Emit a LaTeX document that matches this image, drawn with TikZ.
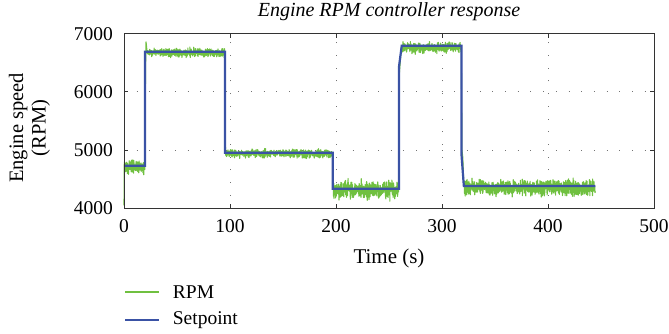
\documentclass[tikz,border=0pt]{standalone}
\usepackage{fontspec}
\setmainfont{Liberation Serif}
\usetikzlibrary{positioning}
\definecolor{rpmgreen}{RGB}{112,192,64}
\definecolor{setblue}{RGB}{58,82,165}
\tikzset{
	rpmline/.style={rpmgreen, line width=1.1pt, line join=round},
	setline/.style={setblue, line width=2.2pt},
	gridline/.style={black!55, line width=0.9pt, dash pattern=on 0.9pt off 11.8pt},
	axisframe/.style={black!80, line width=1pt},
	ticklabel/.style={font=\fontsize{19.5}{22}\selectfont, inner sep=0pt},
	legtext/.style={font=\fontsize{19.5}{22}\selectfont, inner sep=0pt, anchor=west},
}
\newcommand{\noisyrun}[5]{
	% #1: from
	% #2: to
	% #3: mean
	% #4: spread
	% #5: samples
	-- plot[domain=#1:#2, samples=#5] (\x,{#3+#4*(rand+rand+rand)})
}

\begin{document}
\begin{tikzpicture}[x=1pt,y=1pt]
\useasboundingbox (0,0) rectangle (669,333);
\pgfmathsetseed{42}

% title and axis labels
\node[font=\fontsize{20}{24}\selectfont\itshape, inner sep=0pt] (title) at (389,321) {Engine RPM controller response};
\node[font=\fontsize{21}{24}\selectfont, inner sep=0pt] (xlabel) at (389,75) {Time (s)};
\node[font=\fontsize{20.5}{22.5}\selectfont, inner sep=0pt, rotate=90, align=center] (ylabel) at (29.5,205) {Engine speed\\(RPM)};

% data area
\begin{scope}[shift={(124pt,-108.1pt)}, x=1.06pt, y=0.0582pt]

% grid
\foreach \t in {100,200,300,400}
	\draw[gridline] (\t,4000) -- (\t,7000);
\foreach \r in {5000,6000}
	\draw[gridline] (0,\r) -- (500,\r);

% ticks
\foreach \t in {100,200,300,400}{
	\draw[axisframe] (\t,4000) -- ++(0,4pt);
	\draw[axisframe] (\t,7000) -- ++(0,-4pt);
}
\foreach \r in {5000,6000}{
	\draw[axisframe] (0,\r) -- ++(4pt,0);
	\draw[axisframe] (500,\r) -- ++(-4pt,0);
}

% tick labels
\foreach \t in {0,100,...,500}
	\node[ticklabel, yshift=-17.5pt] (xt\t) at (\t,4000) {\t};
\foreach \r in {4000,5000,6000,7000}
	\node[ticklabel, anchor=east, xshift=-11pt] (yt\r) at (0,\r) {\r};

% measured speed
\draw[rpmline] (0,4050) -- (0.3,4800)
	\noisyrun{0.3}{19.8}{4712}{55}{150}
	-- (20.3,6350) -- (20.8,6860) -- (21.6,6720)
	\noisyrun{22}{95.2}{6672}{36}{550}
	-- (95.6,5100)
	\noisyrun{96}{196.8}{4942}{34}{750}
	\noisyrun{197.2}{259.2}{4318}{75}{460}
	-- (259.7,6300) -- (261.6,6760)
	\noisyrun{262}{318.2}{6762}{40}{420}
	-- (318.8,5000) -- (319.6,4880) -- (320.6,4400)
	\noisyrun{321}{444.6}{4356}{66}{900};

% setpoint
\draw[setline] (0,4732) -- (19.8,4732) -- (19.8,6690) -- (95.3,6690)
	-- (95.3,4955) -- (196.9,4955) -- (196.9,4337) -- (259.4,4337)
	-- (259.4,6430) -- (262,6794) -- (318.4,6794) -- (318.4,4916)
	-- (320.6,4383) -- (444.6,4383);

% frame
\draw[axisframe] (0,4000) rectangle (500,7000);
\end{scope}

% legend
\coordinate (rpmstart) at (125,41);
\coordinate[right=34pt of rpmstart] (rpmend);
\node[legtext, right=13.7pt of rpmend] (rpmtext) {RPM};
\draw[rpmgreen, line width=1.2pt] (rpmstart) -- (rpmend);

\coordinate (setstart) at (125,13);
\coordinate[right=34pt of setstart] (setend);
\node[legtext, right=13.7pt of setend] (settext) {Setpoint};
\draw[setblue, line width=1.2pt] (setstart) -- (setend);

\end{tikzpicture}
\end{document}
